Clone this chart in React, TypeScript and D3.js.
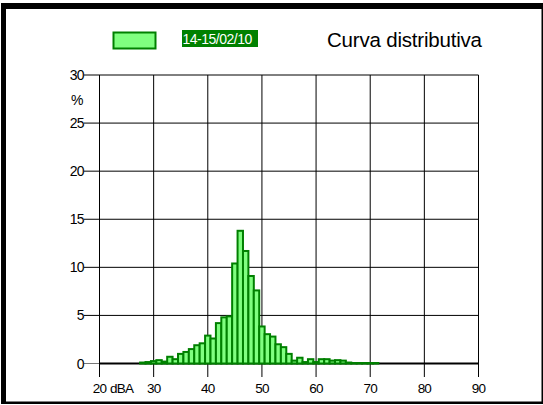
import React, { FC, useMemo } from 'react'
import * as d3 from 'd3'

// livelli in dBA (classi di 1 dB) e percentuale di tempo
const levels = [
	28, 29, 30, 31, 32, 33, 34, 35, 36, 37, 38, 39, 40, 41, 42, 43, 44, 45, 46, 47, 48, 49,
	50, 51, 52, 53, 54, 55, 56, 57, 58, 59, 60, 61, 62, 63, 64, 65, 66, 67, 68, 69, 70, 71
]
const percents = [
	0.1, 0.15, 0.25, 0.35, 0.2, 0.7, 0.45, 1.0, 1.2, 1.5, 1.9, 2.1, 2.9, 2.6, 4.2, 4.8, 4.9,
	10.4, 13.8, 11.7, 9.1, 7.6, 3.85, 3.05, 2.8, 2.0, 1.7, 1.0, 0.3, 0.6, 0.15, 0.45, 0.15,
	0.45, 0.45, 0.3, 0.35, 0.3, 0.1, 0.05, 0.05, 0.05, 0.05, 0.05
]
const xTicks = [20, 30, 40, 50, 60, 70, 80, 90]
const yTicks = [0, 5, 10, 15, 20, 25, 30]
const seriesName = '14-15/02/10'
const title = 'Curva distributiva'

const W = 543
const H = 405
const font = '"Liberation Sans", Arial, sans-serif'

const App: FC = () => {
	const x = useMemo(() => d3.scaleLinear().domain([20, 90]).range([99.5, 478.5]), [])
	const y = useMemo(() => d3.scaleLinear().domain([0, 30]).range([363.5, 75]), [])

	return (
		<svg
			width={W}
			height={H}
			style={{ position: 'absolute', left: 0, top: 0, background: '#fff' }}
		>
			{/* cornice */}
			<rect x={1} y={3} width={5} height={401} fill="#000" />
			<rect x={1} y={3} width={542} height={6} fill="#000" />
			<rect x={541.5} y={3} width={1.5} height={401} fill="#000" />
			<rect x={1} y={401.5} width={542} height={2.5} fill="#000" />

			{/* legenda */}
			<rect x={113.5} y={32.5} width={42} height={16} fill="#80ff80" stroke="#008000" strokeWidth={2} />
			<rect x={182} y={30} width={76} height={17} fill="#008000" />
			<text x={182.5} y={44} fontFamily={font} fontSize={14} fill="#fff" letterSpacing={-0.5}>
				{seriesName}
			</text>
			<text x={327} y={47} fontFamily={font} fontSize={20.5} fill="#000" letterSpacing={-0.2}>
				{title}
			</text>

			{/* griglia */}
			<g stroke="#000" strokeWidth={1}>
				{yTicks.filter(t => t > 0).map(t => (
					<line key={'h' + t} x1={84} x2={x(90)} y1={y(t)} y2={y(t)} />
				))}
				<line x1={84} x2={x(20)} y1={y(0)} y2={y(0)} stroke="#777" />
				{xTicks.map(t => (
					<line key={'v' + t} x1={x(t)} x2={x(t)} y1={y(30)} y2={377} />
				))}
			</g>
			<line x1={x(20)} x2={x(90)} y1={y(0)} y2={y(0)} stroke="#000" strokeWidth={2} />

			{/* istogramma */}
			<g fill="#80ff80" stroke="#008000" strokeWidth={2}>
				{levels.map((l, i) => (
					<rect
						key={l}
						x={x(l - 0.5)}
						y={y(percents[i])}
						width={x(l + 0.5) - x(l - 0.5)}
						height={y(0) - y(percents[i])}
					/>
				))}
			</g>

			{/* etichette */}
			<g fontFamily={font} fontSize={14} fill="#000" letterSpacing={-0.6}>
				{yTicks.map(t => (
					<text key={'yl' + t} x={84} y={y(t) + 5} textAnchor="end">
						{t}
					</text>
				))}
				<text x={71} y={105}>%</text>
			</g>
			<g fontFamily={font} fontSize={13.5} fill="#000" letterSpacing={-0.8}>
				{xTicks.map(t => (
					<text key={'xl' + t} x={x(t)} y={393} textAnchor="middle">
						{t}
					</text>
				))}
				<text x={110} y={393}>dBA</text>
			</g>
		</svg>
	)
}

export default App
